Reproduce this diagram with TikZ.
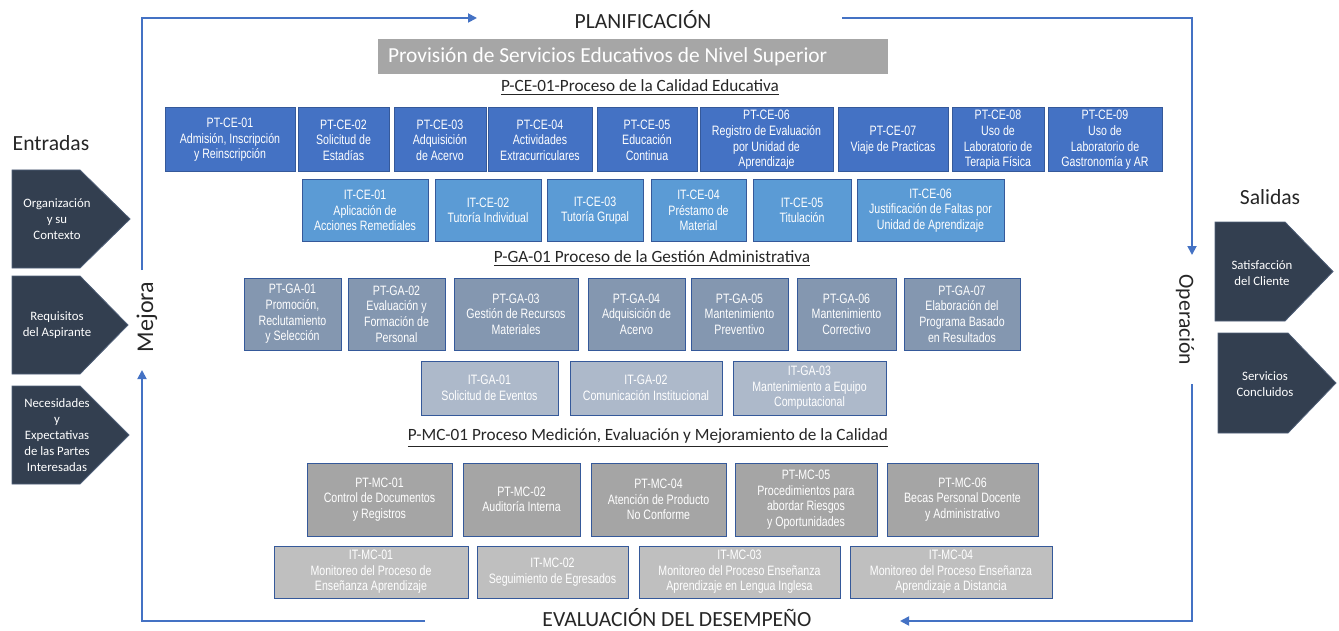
\documentclass[tikz,border=0pt]{standalone}
\usepackage{fontspec}
\setmainfont{Carlito}
\newfontfamily\boxfont[FakeStretch=0.78]{Liberation Sans}
\usepackage{tikz}
\usetikzlibrary{positioning, arrows.meta}

\definecolor{colPTCE}{HTML}{4472C4}
\definecolor{colITCE}{HTML}{5B9BD5}
\definecolor{colPTGA}{HTML}{8497B0}
\definecolor{colITGA}{HTML}{ADB9CA}
\definecolor{colPTMC}{HTML}{A5A5A5}
\definecolor{colITMC}{HTML}{BFBFBF}
\definecolor{colTitulo}{HTML}{A6A6A6}
\definecolor{colBorde}{HTML}{35599A}
\definecolor{colLinea}{HTML}{4472C4}
\definecolor{colFlecha}{HTML}{333F50}
\definecolor{colFlechaBorde}{HTML}{4F5F78}
\definecolor{colTexto}{HTML}{262626}

\begin{document}
\begin{tikzpicture}[x=0.5pt, y=-0.5pt]
    \useasboundingbox (0,0) rectangle (1339,631);
    % Default styles
    \tikzstyle{every node}=[inner sep=1pt];
    \tikzstyle{tarea}=[draw=colBorde, line width=0.5pt, outer sep=0pt, text=white, align=center,
        font=\boxfont\fontsize{6.8}{7.8}\selectfont];
    \tikzstyle{ptce}=[tarea, fill=colPTCE, minimum height=32pt];
    \tikzstyle{itce}=[tarea, fill=colITCE, minimum height=30.5pt];
    \tikzstyle{ptga}=[tarea, fill=colPTGA, minimum height=36pt];
    \tikzstyle{itga}=[tarea, fill=colITGA, minimum height=27pt];
    \tikzstyle{ptmc}=[tarea, fill=colPTMC, minimum height=36.5pt];
    \tikzstyle{itmc}=[tarea, fill=colITMC, minimum height=26pt];
    \tikzstyle{encabezado}=[text=colTexto, font=\fontsize{8.6}{10}\selectfont];
    \tikzstyle{ciclo}=[text=colTexto, font=\fontsize{10.8}{13}\selectfont];
    \tikzstyle{flecha}=[fill=colFlecha, draw=colFlechaBorde, line width=0.4pt];
    \tikzstyle{flechatexto}=[text=white, align=center, font=\fontsize{6.4}{8}\selectfont];
    \tikzstyle{flujo}=[draw=colLinea, line width=0.9pt, -{Triangle[length=4.5pt, width=4.5pt]}];

    % Title and cycle labels
    \node [fill=colTitulo, text=white, inner xsep=5pt, minimum height=17.5pt,
        font=\fontsize{10.7}{12}\selectfont] (prov) at (633,56.5)
        {\makebox[245pt][l]{Provisión de Servicios Educativos de Nivel Superior}};
    \node [ciclo] (plan) at (643,20) {PLANIFICACIÓN};
    \node [ciclo] (eval) at (677,618) {EVALUACIÓN DEL DESEMPEÑO};
    \node [ciclo, rotate=90, font=\fontsize{12}{14}\selectfont] (mejora) at (147,317) {Mejora};
    \node [ciclo, rotate=-90] (oper) at (1185,320) {Operación};
    \node [ciclo] (entradas) at (51,143) {Entradas};
    \node [ciclo] (salidas) at (1270,197) {Salidas};

    % P-CE-01
    \node [encabezado] (hce) at (640,88) {\underline{P-CE-01-Proceso de la Calidad Educativa}};
    \node [ptce, minimum width=65pt] (ptce01) at (230,140) {PT-CE-01\\Admisión, Inscripción\\y Reinscripción};
    \node [ptce, minimum width=45.5pt] (ptce02) [right=1.5pt of ptce01] {PT-CE-02\\Solicitud de\\Estadías};
    \node [ptce, minimum width=46pt] (ptce03) [right=2.5pt of ptce02] {PT-CE-03\\Adquisición\\de Acervo};
    \node [ptce, minimum width=52pt] (ptce04) [right=1pt of ptce03] {PT-CE-04\\Actividades\\Extracurriculares};
    \node [ptce, minimum width=50pt] (ptce05) [right=2.5pt of ptce04] {PT-CE-05\\Educación\\Continua};
    \node [ptce, minimum width=66.5pt] (ptce06) [right=1.5pt of ptce05] {PT-CE-06\\Registro de Evaluación\\por  Unidad de\\Aprendizaje};
    \node [ptce, minimum width=55pt] (ptce07) [right=2.5pt of ptce06] {PT-CE-07\\Viaje de Practicas};
    \node [ptce, minimum width=46pt] (ptce08) [right=2pt of ptce07] {PT-CE-08\\Uso de\\Laboratorio de\\Terapia Física};
    \node [ptce, minimum width=57pt] (ptce09) [right=2pt of ptce08] {PT-CE-09\\Uso de\\Laboratorio de\\Gastronomía y AR};

    \node [itce, minimum width=63pt] (itce01) at (365,210.5) {IT-CE-01\\Aplicación de\\Acciones Remediales};
    \node [itce, minimum width=53pt] (itce02) [right=3.5pt of itce01] {IT-CE-02\\Tutoría Individual};
    \node [itce, minimum width=48pt] (itce03) [right=3pt of itce02] {IT-CE-03\\Tutoría Grupal};
    \node [itce, minimum width=47.5pt] (itce04) [right=4pt of itce03] {IT-CE-04\\Préstamo de\\Material};
    \node [itce, minimum width=49pt] (itce05) [right=3.5pt of itce04] {IT-CE-05\\Titulación};
    \node [itce, minimum width=73.5pt] (itce06) [right=3pt of itce05] {IT-CE-06\\Justificación de Faltas por\\Unidad de Aprendizaje};

    % P-GA-01
    \node [encabezado] (hga) at (652,259) {\underline{P-GA-01 Proceso de la Gestión Administrativa}};
    \node [ptga, minimum width=48.5pt] (ptga01) at (292.5,314) {PT-GA-01\\Promoción,\\Reclutamiento\\y Selección};
    \node [ptga, minimum width=48.5pt] (ptga02) [right=3.5pt of ptga01] {PT-GA-02\\Evaluación y\\Formación de\\Personal};
    \node [ptga, minimum width=62pt] (ptga03) [right=4.5pt of ptga02] {PT-GA-03\\Gestión de Recursos\\Materiales};
    \node [ptga, minimum width=48.5pt] (ptga04) [right=5pt of ptga03] {PT-GA-04\\Adquisición de\\Acervo};
    \node [ptga, minimum width=48.5pt] (ptga05) [right=3pt of ptga04] {PT-GA-05\\Mantenimiento\\Preventivo};
    \node [ptga, minimum width=49.5pt] (ptga06) [right=4.5pt of ptga05] {PT-GA-06\\Mantenimiento\\Correctivo};
    \node [ptga, minimum width=58pt] (ptga07) [right=4pt of ptga06] {PT-GA-07\\Elaboración del\\Programa Basado\\en Resultados};

    \node [itga, minimum width=68.5pt] (itga01) at (489.5,388) {IT-GA-01\\Solicitud de Eventos};
    \node [itga, minimum width=76pt] (itga02) [right=6pt of itga01] {IT-GA-02\\Comunicación Institucional};
    \node [itga, minimum width=76.5pt] (itga03) [right=5.5pt of itga02] {IT-GA-03\\Mantenimiento a Equipo\\Computacional};

    % P-MC-01
    \node [encabezado] (hmc) at (648,438) {\underline{P-MC-01 Proceso Medición, Evaluación y Mejoramiento de la Calidad}};
    \node [ptmc, minimum width=72.5pt] (ptmc01) at (379.5,499.5) {PT-MC-01\\Control de Documentos\\y Registros};
    \node [ptmc, minimum width=58.5pt] (ptmc02) [right=5.5pt of ptmc01] {PT-MC-02\\Auditoría Interna};
    \node [ptmc, minimum width=67.5pt] (ptmc04) [right=5.5pt of ptmc02] {PT-MC-04\\Atención de Producto\\No Conforme};
    \node [ptmc, minimum width=71pt] (ptmc05) [right=4.5pt of ptmc04] {PT-MC-05\\Procedimientos para\\abordar Riesgos\\y Oportunidades};
    \node [ptmc, minimum width=75.5pt] (ptmc06) [right=5pt of ptmc05] {PT-MC-06\\Becas Personal Docente\\y Administrativo};

    \node [itmc, minimum width=97pt] (itmc01) at (371,572) {IT-MC-01\\Monitoreo del Proceso de\\Enseñanza Aprendizaje};
    \node [itmc, minimum width=75.5pt] (itmc02) [right=4.5pt of itmc01] {IT-MC-02\\Seguimiento de Egresados};
    \node [itmc, minimum width=100.5pt] (itmc03) [right=5.5pt of itmc02] {IT-MC-03\\Monitoreo del Proceso Enseñanza\\Aprendizaje en Lengua Inglesa};
    \node [itmc, minimum width=101pt] (itmc04) [right=5pt of itmc03] {IT-MC-04\\Monitoreo del Proceso Enseñanza\\Aprendizaje a Distancia};

    % Entradas
    \draw [flecha] (12,170) -- (80,170) -- (130,219) -- (80,268) -- (12,268) -- cycle;
    \draw [flecha] (12,276) -- (80,276) -- (128,325) -- (80,374) -- (12,374) -- cycle;
    \draw [flecha] (12,386) -- (80,386) -- (129,435) -- (80,484) -- (12,484) -- cycle;
    \node [flechatexto] (ent1) at (57,219) {Organización\\y su\\Contexto};
    \node [flechatexto] (ent2) at (57,325) {Requisitos\\del Aspirante};
    \node [flechatexto] (ent3) at (57,435) {Necesidades\\y\\Expectativas\\de las Partes\\Interesadas};

    % Salidas
    \draw [flecha] (1215,222) -- (1285,222) -- (1333,271.5) -- (1285,321) -- (1215,321) -- cycle;
    \draw [flecha] (1218,333) -- (1288,333) -- (1336,383) -- (1288,433) -- (1218,433) -- cycle;
    \node [flechatexto] (sal1) at (1262,273) {Satisfacción\\del Cliente};
    \node [flechatexto] (sal2) at (1265,384) {Servicios\\Concluidos};

    % Cycle frame
    \coordinate (mejA) at (142,270);
    \coordinate (tl) at (142,18);
    \coordinate (planA) at (477,18);
    \coordinate (planB) at (842,18);
    \coordinate (tr) at (1192,18);
    \coordinate (opA) at (1192,255);
    \coordinate (opB) at (1192,384);
    \coordinate (br) at (1192,621);
    \coordinate (evA) at (900,621);
    \coordinate (evB) at (425,621);
    \coordinate (bl) at (142,621);
    \coordinate (mejB) at (142,370);
    \draw [flujo] (mejA) -- (tl) -- (planA);
    \draw [flujo] (planB) -- (tr) -- (opA);
    \draw [flujo] (opB) -- (br) -- (evA);
    \draw [flujo] (evB) -- (bl) -- (mejB);
\end{tikzpicture}
\end{document}
